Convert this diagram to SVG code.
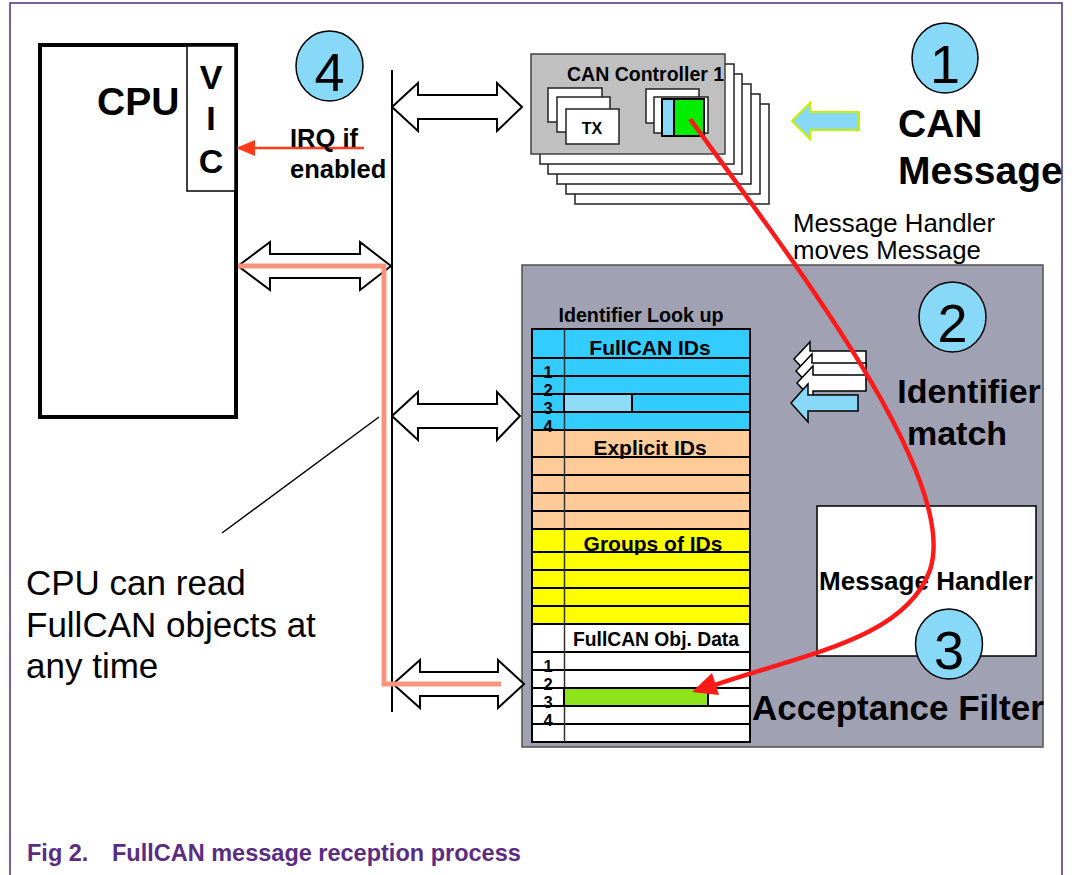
<svg xmlns="http://www.w3.org/2000/svg" width="1074" height="875" viewBox="0 0 1074 875">
<style>
text{font-family:"Liberation Sans",Arial,sans-serif;fill:#000}
.b{font-weight:bold}
.num{font-size:54px;text-anchor:middle}
.circ{fill:#87d9f7;stroke:#000;stroke-width:1.5}
.dbl{fill:#fff;stroke:#000;stroke-width:2;stroke-linejoin:miter}
.stack{fill:#fff;stroke:#222;stroke-width:1.5}
.cell{stroke:#000;stroke-width:2}
.rn{font-size:16.5px;font-weight:bold;text-anchor:middle}
.hdr{font-weight:bold;text-anchor:middle}
</style>
<rect width="1074" height="875" fill="#fff"/>
<g id="frame" fill="none" stroke="#4b2c80" stroke-width="1.5">
<path d="M10,875 L10,3 L1062,3 L1062,875"/>
</g>

<g id="cpu">
<rect x="40" y="45" width="196" height="372" fill="#fff" stroke="#000" stroke-width="4"/>
<text x="97" y="115" class="b" font-size="39">CPU</text>
</g>
<g id="vic">
<rect x="187" y="46" width="48" height="145" fill="#fff" stroke="#000" stroke-width="1.5"/>
<text x="211" y="89" class="b" font-size="34" text-anchor="middle">V</text>
<text x="211" y="130" class="b" font-size="34" text-anchor="middle">I</text>
<text x="211" y="173" class="b" font-size="34" text-anchor="middle">C</text>
</g>

<g id="step4">
<ellipse cx="329.5" cy="66" rx="33.5" ry="35" class="circ"/>
<text x="329.5" y="91" class="num">4</text>
</g>
<g id="step1">
<ellipse cx="945" cy="58" rx="33" ry="35" class="circ"/>
<text x="945" y="83" class="num">1</text>
</g>

<g id="can-controller">
<rect x="575" y="104" width="194" height="100" class="stack"/>
<rect x="566" y="94" width="194" height="100" class="stack"/>
<rect x="557" y="84" width="194" height="100" class="stack"/>
<rect x="548" y="74" width="194" height="100" class="stack"/>
<rect x="540" y="64" width="194" height="100" class="stack"/>
<rect x="531" y="54" width="194" height="100" fill="#c0c0c0" stroke="#404040" stroke-width="1.5"/>
<text x="567" y="81" class="b" font-size="19.5">CAN Controller 1</text>
<rect x="548" y="88" width="54" height="34" class="stack"/>
<rect x="557" y="97" width="53" height="35" class="stack"/>
<rect x="566" y="109" width="53" height="35" class="stack"/>
<text x="592" y="134" class="b" font-size="16" text-anchor="middle">TX</text>
<rect x="646" y="89" width="53" height="34" class="stack"/>
<rect x="654" y="97" width="54" height="36" class="stack"/>
<rect x="662" y="99" width="12" height="37" fill="#87d9f7" stroke="#000" stroke-width="2"/>
<rect x="674" y="99" width="30" height="37" fill="#00ee00" stroke="#000" stroke-width="2"/>
</g>

<g id="can-message">
<polygon points="792,121 810,103 810,112 859,112 859,130 810,130 810,139" fill="#87d9f7" stroke="#c4f000" stroke-width="2"/>
<text x="898" y="137" class="b" font-size="39">CAN</text>
<text x="898" y="184" class="b" font-size="39">Message</text>
</g>
<text x="793" y="232" font-size="25.8">Message Handler</text>
<text x="793" y="259" font-size="25.8">moves Message</text>

<g id="acceptance-filter">
<rect x="522" y="265" width="521" height="482" fill="#a0a2b4" stroke="#505050" stroke-width="1.5"/>
<text x="641" y="322" class="hdr" font-size="19.7">Identifier Look up</text>
<text x="969" y="403" class="b" font-size="34" text-anchor="middle">Identifier</text>
<text x="957" y="445" class="b" font-size="34" text-anchor="middle">match</text>
<text x="752" y="720" class="b" font-size="35">Acceptance Filter</text>
</g>

<g id="step2">
<ellipse cx="952.5" cy="317" rx="33.5" ry="35" class="circ"/>
<text x="952.5" y="342" class="num">2</text>
</g>

<g id="id-arrows">
<path d="M0,0 L16,-17 L16,-8 L72,-8 L72,8 L16,8 L16,17 Z" transform="translate(794,359)" fill="#fff" stroke="#000" stroke-width="1.5"/>
<path d="M0,0 L16,-17 L16,-8 L70,-8 L70,8 L16,8 L16,17 Z" transform="translate(796,371)" fill="#fff" stroke="#000" stroke-width="1.5"/>
<path d="M0,0 L16,-17 L16,-8 L69,-8 L69,8 L16,8 L16,17 Z" transform="translate(797,383)" fill="#fff" stroke="#000" stroke-width="1.5"/>
<path d="M0,0 L17,-19 L17,-8 L67,-8 L67,8 L17,8 L17,19 Z" transform="translate(791,403)" fill="#87d9f7" stroke="#000" stroke-width="1.5"/>
</g>

<g id="lookup-table">
<g class="cell">
<rect x="532" y="329" width="218" height="29" fill="#33ccff"/>
<rect x="532" y="358" width="218" height="18" fill="#33ccff"/>
<rect x="532" y="376" width="218" height="18" fill="#33ccff"/>
<rect x="532" y="394" width="218" height="18" fill="#33ccff"/>
<rect x="532" y="412" width="218" height="18" fill="#33ccff"/>
<rect x="532" y="430" width="218" height="27" fill="#ffcc99"/>
<rect x="532" y="457" width="218" height="18" fill="#ffcc99"/>
<rect x="532" y="475" width="218" height="18" fill="#ffcc99"/>
<rect x="532" y="493" width="218" height="18" fill="#ffcc99"/>
<rect x="532" y="511" width="218" height="18" fill="#ffcc99"/>
<rect x="532" y="529" width="218" height="23" fill="#ffff00"/>
<rect x="532" y="552" width="218" height="18" fill="#ffff00"/>
<rect x="532" y="570" width="218" height="18" fill="#ffff00"/>
<rect x="532" y="588" width="218" height="18" fill="#ffff00"/>
<rect x="532" y="606" width="218" height="18" fill="#ffff00"/>
<rect x="532" y="624" width="218" height="28" fill="#fff"/>
<rect x="532" y="652" width="218" height="18" fill="#fff"/>
<rect x="532" y="670" width="218" height="18" fill="#fff"/>
<rect x="532" y="688" width="218" height="18" fill="#fff"/>
<rect x="532" y="706" width="218" height="18" fill="#fff"/>
<rect x="532" y="724" width="218" height="18" fill="#fff"/>
</g>
<line x1="564.5" y1="329" x2="564.5" y2="742" stroke="#333" stroke-width="1.5"/>
<rect x="564" y="394" width="68" height="18" fill="#8edcf8" stroke="#000" stroke-width="2"/>
<rect x="564" y="688" width="144" height="18" fill="#8ee41b" stroke="#000" stroke-width="2"/>
<text x="650" y="355" class="hdr" font-size="21">FullCAN IDs</text>
<text x="650" y="455" class="hdr" font-size="21">Explicit IDs</text>
<text x="653" y="551" class="hdr" font-size="21">Groups of IDs</text>
<text x="656" y="646" class="hdr" font-size="19.3">FullCAN Obj. Data</text>
<text x="548" y="378" class="rn">1</text>
<text x="548" y="396" class="rn">2</text>
<text x="548" y="414" class="rn">3</text>
<text x="548" y="432" class="rn">4</text>
<text x="548" y="672" class="rn">1</text>
<text x="548" y="690" class="rn">2</text>
<text x="548" y="708" class="rn">3</text>
<text x="548" y="726" class="rn">4</text>
</g>

<g id="message-handler">
<rect x="817" y="506" width="219" height="150" fill="#fff" stroke="#000" stroke-width="1.5"/>
<text x="926" y="590" class="b" font-size="26" text-anchor="middle">Message Handler</text>
</g>

<g id="connectors">
<line id="bus" x1="392" y1="70" x2="392" y2="712" stroke="#000" stroke-width="2"/>
<path class="dbl" d="M392,107 L418,83 L418,95 L497,95 L497,83 L522,107 L497,131 L497,119 L418,119 L418,131 Z"/>
<path class="dbl" d="M238,266 L270,242 L270,254 L360,254 L360,242 L391,266 L360,290 L360,278 L270,278 L270,290 Z"/>
<path class="dbl" d="M392,416 L418,392 L418,404 L497,404 L497,392 L520,416 L497,440 L497,428 L418,428 L418,440 Z"/>
<path class="dbl" d="M393,684 L420,660 L420,672 L498,672 L498,660 L524,684 L498,708 L498,696 L420,696 L420,708 Z"/>
<polyline points="238,266 384,266 384,684 501,684" fill="none" stroke="#f8937d" stroke-width="5"/>
<line x1="379" y1="417" x2="222" y2="533" stroke="#000" stroke-width="1.5"/>
<line x1="364" y1="148" x2="252" y2="148" stroke="#ff3b1a" stroke-width="2.5"/>
<polygon points="236,148 255,140 255,156" fill="#ff3b1a"/>
<path d="M690,119 C800,270 960,480 930,570 C905,640 800,655 712,686" fill="none" stroke="#ff1a1a" stroke-width="4.5"/>
<polygon points="692,692 712,673 719,695" fill="#ff1a1a"/>
</g>

<g id="step3">
<ellipse cx="949" cy="644" rx="33.5" ry="35" class="circ"/>
<text x="949" y="669" class="num">3</text>
</g>

<text x="290" y="147" class="b" font-size="25.5">IRQ if</text>
<text x="290" y="178" class="b" font-size="25.5">enabled</text>

<text x="26" y="595" font-size="35">CPU can read</text>
<text x="26" y="637" font-size="35">FullCAN objects at</text>
<text x="26" y="678" font-size="35">any time</text>

<g id="caption" style="font-weight:bold;font-size:23.5px">
<text x="27" y="861" style="fill:#5a2d82">Fig 2.</text>
<text x="112" y="861" style="fill:#5a2d82">FullCAN message reception process</text>
</g>
</svg>
